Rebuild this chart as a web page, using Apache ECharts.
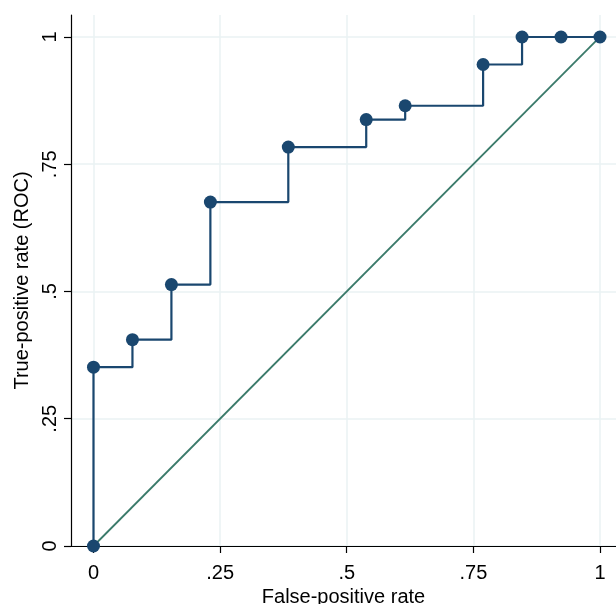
<!DOCTYPE html>
<html>
<head>
<meta charset="utf-8">
<script src="https://cdn.jsdelivr.net/npm/echarts@6/dist/echarts.min.js"></script>
<style>html,body{margin:0;padding:0;background:#fff}#c{width:616px;height:604px}</style>
</head>
<body>
<div id="c"></div>
<script>
// False-positive rate (x) and true-positive rate (y) of ROC points
var fpr = [0, 0, 1/13, 2/13, 3/13, 5/13, 7/13, 8/13, 10/13, 11/13, 12/13, 1];
var tpr = [0, 13/37, 15/37, 19/37, 25/37, 29/37, 31/37, 32/37, 35/37, 1, 1, 1];
var refX = [0, 1];
var refY = [0, 1];
var xTicks = [0, 0.25, 0.5, 0.75, 1];
var yTicks = [0, 0.25, 0.5, 0.75, 1];
var xTickLabels = ['0', '.25', '.5', '.75', '1'];
var yTickLabels = ['0', '.25', '.5', '.75', '1'];

function fmt(vals, labels) {
  return function (v) {
    for (var i = 0; i < vals.length; i++) if (Math.abs(vals[i] - v) < 1e-9) return labels[i];
    return '';
  };
}
var font = 'Liberation Sans, Arial, sans-serif';
var chart = echarts.init(document.getElementById('c'), null, {renderer: 'canvas'});
chart.setOption({
  animation: false,
  backgroundColor: '#ffffff',
  grid: {left: 71, right: 0, top: 15, bottom: 58, containLabel: false, outerBoundsMode: 'none'},
  xAxis: {
    type: 'value', min: -0.0444, max: 1.0316,
    name: 'False-positive rate', nameLocation: 'middle', nameGap: 41,
    nameTextStyle: {fontSize: 20, color: '#000', fontFamily: font},
    axisLine: {onZero: false, lineStyle: {color: '#000', width: 1.2}},
    axisTick: {show: true, length: 7, customValues: xTicks, lineStyle: {color: '#000', width: 1.2}},
    axisLabel: {customValues: xTicks, formatter: fmt(xTicks, xTickLabels), fontSize: 20, color: '#000', fontFamily: font, margin: 17, showMinLabel: true, showMaxLabel: true},
    splitLine: {show: true, lineStyle: {color: '#eaf2f3', width: 1.5}}
  },
  yAxis: {
    type: 'value', min: 0, max: 1.0432,
    name: 'True-positive rate (ROC)', nameLocation: 'middle', nameGap: 36, nameRotate: 90,
    nameTextStyle: {fontSize: 20, color: '#000', fontFamily: font},
    axisLine: {onZero: false, lineStyle: {color: '#000', width: 1.2}},
    axisTick: {show: true, length: 7, customValues: yTicks, lineStyle: {color: '#000', width: 1.2}},
    axisLabel: {customValues: yTicks, formatter: fmt(yTicks, yTickLabels), rotate: 90, fontSize: 20, color: '#000', fontFamily: font, margin: 11, showMinLabel: true, showMaxLabel: true},
    splitLine: {show: true, lineStyle: {color: '#eaf2f3', width: 1.5}}
  },
  series: [
    {
      type: 'line',
      data: refX.map(function (x, i) { return [x, refY[i]]; }),
      symbol: 'none',
      lineStyle: {color: '#3a7a6a', width: 1.8},
      z: 2
    },
    {
      type: 'line',
      step: 'end',
      data: fpr.map(function (x, i) { return [x, tpr[i]]; }),
      symbol: 'circle', symbolSize: 13,
      itemStyle: {color: '#1a476f'},
      lineStyle: {color: '#1a476f', width: 2.2},
      z: 3
    }
  ]
});
</script>
</body>
</html>
